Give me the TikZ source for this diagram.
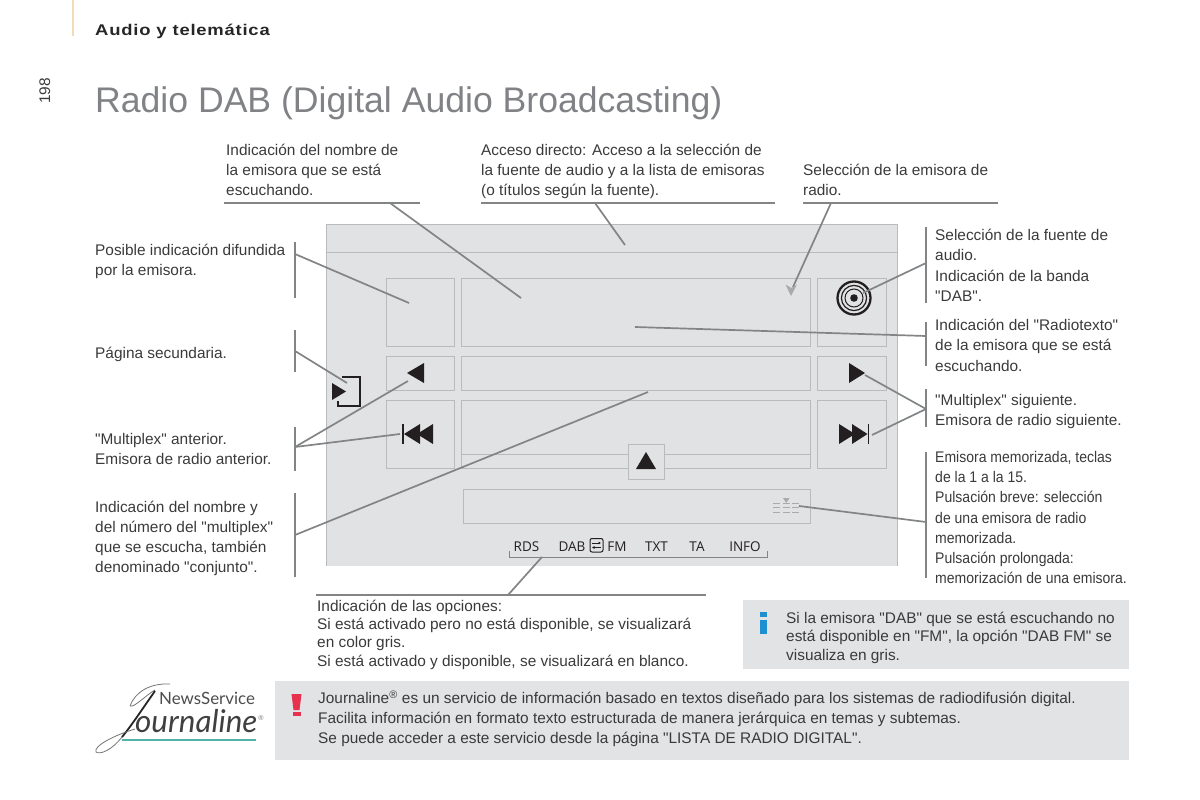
\documentclass[tikz,border=0pt]{standalone}
\usepackage{fontspec}
\usetikzlibrary{arrows.meta}
\setmainfont{Liberation Sans}
\newfontfamily\bodyfont{Liberation Sans}
\newfontfamily\logofont{Lato}
\newfontfamily\uifont{Open Sans}
\newfontfamily\narrowfont[FakeStretch=0.91]{Liberation Sans}
\newfontfamily\widefont[FakeStretch=1.19,LetterSpace=5]{Liberation Sans}
\definecolor{screen}{HTML}{E1E2E3}
\definecolor{boxline}{HTML}{B9BABC}
\definecolor{leader}{HTML}{828486}
\definecolor{bodyink}{HTML}{3A3A3C}
\definecolor{titleink}{HTML}{808285}
\definecolor{noteback}{HTML}{E2E3E4}
\definecolor{iconink}{HTML}{231F20}
\definecolor{softgrey}{HTML}{A9AAAC}
\definecolor{infoblue}{HTML}{1E90D2}
\definecolor{alertred}{HTML}{E8314F}
\definecolor{tabtan}{HTML}{F0DCB8}
\definecolor{logoteal}{HTML}{4FB3A8}
\tikzset{
 lbl/.style={anchor=north west,inner sep=0pt,align=left,text=bodyink,font=\bodyfont\fontsize{15.4}{20.2}\selectfont},
 lower/.style={anchor=north west,inner sep=0pt,align=left,text=bodyink,font=\bodyfont\fontsize{15.4}{18.3}\selectfont},
 narrowlbl/.style={anchor=north west,inner sep=0pt,align=left,text=bodyink,font=\narrowfont\fontsize{15.4}{20.2}\selectfont},
 note/.style={anchor=north west,inner sep=0pt,align=left,text=bodyink,font=\bodyfont\fontsize{15.4}{18.7}\selectfont},
 leadline/.style={draw=leader,line width=1.7pt},
 boxl/.style={draw=boxline,line width=1pt},
 icon/.style={fill=iconink,draw=none},
 uitxt/.style={anchor=base,inner sep=0pt,text=iconink,font=\uifont\fontsize{13.5}{16}\selectfont},
}
\begin{document}
\begin{tikzpicture}[x=1pt,y=-1pt]
\useasboundingbox (0,0) rectangle (1200,800);
% page header
\fill[tabtan] (71.5,0) rectangle (73.5,36);
\node[anchor=base west,inner sep=0pt,font=\widefont\bfseries\fontsize{15.5}{18}\selectfont,text=black!85] (head) at (95,36) {Audio y telemática};
\node[anchor=base,rotate=90,inner sep=0pt,font=\fontsize{15.4}{18}\selectfont,text=bodyink] (page) at (50,91) {198};
\node[anchor=base west,inner sep=0pt,font=\fontsize{35.6}{42}\selectfont,text=titleink] (title) at (95,113) {Radio DAB (Digital Audio Broadcasting)};
% screen
\fill[screen] (326,224) rectangle (897,566);
\draw[boxline,line width=1pt] (326,566) -- (326,224) -- (897,224) -- (897,566);
\draw[boxline,line width=1pt] (326,252) -- (897,252);
\draw[boxl] (386,278) rectangle (454,346);
\draw[boxl] (461,278) rectangle (810,346);
\draw[boxl] (817,278) rectangle (886,346);
\draw[boxl] (386,356) rectangle (454,390);
\draw[boxl] (461,356) rectangle (810,390);
\draw[boxl] (817,356) rectangle (886,390);
\draw[boxl] (386,400) rectangle (454,468);
\draw[boxl] (461,400) rectangle (810,468);
\draw[boxl] (817,400) rectangle (886,468);
\draw[boxl] (461,454) -- (810,454);
\draw[boxl] (463,489) rectangle (810,523);
\draw[boxl,fill=screen] (628,444) rectangle (664,479);
\fill[icon] (646,452) -- (656,469) -- (636,469) -- cycle;
% icons
\fill[icon] (407,373) -- (424,363) -- (424,383) -- cycle;
\fill[icon] (865,373) -- (849,363) -- (849,383) -- cycle;
\fill[icon] (332,383) -- (332,400) -- (346,391.5) -- cycle;
\draw[iconink,line width=2pt] (342,376.5) -- (360,376.5) -- (360,405.5) -- (337.5,405.5) -- (337.5,401);
% rewind / forward
\fill[icon] (402,424) rectangle (404,444);
\fill[icon] (404,434) -- (420,424) -- (420,444) -- cycle;
\fill[icon] (417,434) -- (433,424) -- (433,444) -- cycle;
\fill[icon] (867.5,424) rectangle (869,444);
\fill[icon] (855,434) -- (839,424) -- (839,444) -- cycle;
\fill[icon] (867.5,434) -- (852,424) -- (852,444) -- cycle;
% radio source icon
\draw[iconink,line width=2.3pt] (854,298) circle (16.5);
\draw[iconink,line width=1.2pt] (854,298) circle (12.6);
\draw[iconink,line width=1pt] (854,298) circle (9);
\fill[iconink] (854,298) circle (3.8);
% preset list icon
\foreach \yy in {503,507.5,512.5}
  \foreach \xx in {773,783,792}
    \draw[softgrey,line width=1pt] (\xx,\yy) -- ++(7,0);
\fill[softgrey] (783,498) -- (789.5,498) -- (786.2,503) -- cycle;
% option labels
\node[uitxt] (rds) at (526.5,551) {RDS};
\node[uitxt] (dab) at (572,551) {DAB};
\node[uitxt] (fm) at (617,551) {FM};
\node[uitxt] (txt) at (656.5,551) {TXT};
\node[uitxt] (ta) at (697,551) {TA};
\node[uitxt] (info) at (745,551) {INFO};
\draw[iconink,line width=1pt,rounded corners=2pt] (590,538.5) rectangle (603,552);
\draw[iconink,line width=.8pt,-{Latex[length=2.5pt,width=3pt]}] (592,543) -- (601,543);
\draw[iconink,line width=.8pt,-{Latex[length=2.5pt,width=3pt]}] (601,547.5) -- (592,547.5);
% text: top
\node[lbl] (t1) at (226,143.8) {Indicación del nombre de\\la emisora que se está\\escuchando.};
\node[lbl] (t2) at (481,143.8) {Acceso directo: Acceso a la selección de\\la fuente de audio y a la lista de emisoras\\(o títulos según la fuente).};
\node[lbl] (t3) at (803,164) {Selección de la emisora de\\radio.};
% text: left
\node[lbl] (l1) at (95,244) {Posible indicación difundida\\por la emisora.};
\node[lbl] (l2) at (95,346.8) {Página secundaria.};
\node[lbl] (l3) at (95,432.8) {"Multiplex" anterior.\\Emisora de radio anterior.};
\node[lbl] (l4) at (95,500.8) {Indicación del nombre y\\del número del "multiplex"\\que se escucha, también\\denominado "conjunto".};
% text: right
\node[lbl] (r1) at (935,229.2) {Selección de la fuente de\\audio.\\Indicación de la banda\\"DAB".};
\node[lbl] (r2) at (935,319.2) {Indicación del "Radiotexto"\\de la emisora que se está\\escuchando.};
\node[lbl] (r3) at (935,394.2) {"Multiplex" siguiente.\\Emisora de radio siguiente.};
\node[narrowlbl] (r4) at (935,451.2) {Emisora memorizada, teclas\\de la 1 a la 15.\\Pulsación breve: selección\\de una emisora de radio\\memorizada.\\Pulsación prolongada:\\memorización de una emisora.};
% text: bottom
\node[lower] (b1) at (317,599.7) {Indicación de las opciones:\\Si está activado pero no está disponible, se visualizará\\en color gris.\\Si está activado y disponible, se visualizará en blanco.};
% notes
\fill[noteback] (743,600) rectangle (1129,669);
\fill[noteback] (275,681) rectangle (1129,760);
\node[note] (n1) at (786,611.5) {Si la emisora "DAB" que se está escuchando no\\está disponible en "FM", la opción "DAB FM" se\\visualiza en gris.};
\node[anchor=north west,inner sep=0pt,align=left,text=bodyink,font=\bodyfont\fontsize{15.4}{20}\selectfont] (n2) at (318,690.5) {Journaline\textsuperscript{®} es un servicio de información basado en textos diseñado para los sistemas de radiodifusión digital.\\Facilita información en formato texto estructurada de manera jerárquica en temas y subtemas.\\Se puede acceder a este servicio desde la página "LISTA DE RADIO DIGITAL".};
\fill[infoblue] (760,612) rectangle (767,617);
\fill[infoblue] (760,620) rectangle (767,634);
\fill[alertred] (291.5,694) -- (301.5,694) -- (299.5,710) -- (293.5,710) -- cycle;
\fill[alertred] (292.5,712) rectangle (300.5,716);
% logo
\node[anchor=base west,inner sep=0pt,font=\logofont\fontsize{16.9}{18}\selectfont,text=black!70] (logo1) at (159,704) {NewsService};
\node[anchor=base west,inner sep=0pt,font=\logofont\itshape\fontsize{31.4}{32}\selectfont,text=black!75] (logo2) at (135,732) {ournaline};
\node[anchor=center,inner sep=0pt,font=\fontsize{7}{8}\selectfont,text=black!55] (logo3) at (261,718) {®};
\draw[logoteal,line width=1.5pt] (122,740) -- (256,740);
\draw[black!55,line width=.8pt] (170,684) .. controls (150,683) and (135,692) .. (130,706);
\draw[black!55,line width=.8pt] (130,706) .. controls (134,708) and (146,695) .. (155,690);
\draw[black!85,line width=1.8pt] (155,691) .. controls (145,705) and (132,725) .. (122,737);
\draw[black!55,line width=.8pt] (122,737) .. controls (112,750) and (100,755) .. (96,752) .. controls (93,746) and (115,735) .. (135,729);
% leaders: named ends
\coordinate (u1a) at (224,203); \coordinate (u1b) at (420,203); \coordinate (u1c) at (390,203); \coordinate (u1d) at (521,298);
\coordinate (u2a) at (481,203); \coordinate (u2b) at (775,203); \coordinate (u2c) at (595,203); \coordinate (u2d) at (625,245);
\coordinate (u3a) at (803,203); \coordinate (u3b) at (998,203); \coordinate (u3c) at (831,203); \coordinate (u3d) at (793,287);
\draw[leadline] (u1a) -- (u1b); \draw[leadline] (u1c) -- (u1d);
\draw[leadline] (u2a) -- (u2b); \draw[leadline] (u2c) -- (u2d);
\draw[leadline] (u3a) -- (u3b); \draw[leadline] (u3c) -- (u3d);
\fill[softgrey] (785.5,284.5) -- (791,296) -- (797,284.5) -- (791.3,288) -- cycle;
\coordinate (v1a) at (295,242); \coordinate (v1b) at (295,298); \coordinate (v1c) at (295,254); \coordinate (v1d) at (409,303);
\coordinate (v2a) at (295,330); \coordinate (v2b) at (295,372); \coordinate (v2c) at (295,351); \coordinate (v2d) at (347,383);
\coordinate (v3a) at (295,427); \coordinate (v3b) at (295,471); \coordinate (v3c) at (295,447); \coordinate (v3d) at (408,381); \coordinate (v3e) at (400,434);
\coordinate (v4a) at (295,493); \coordinate (v4b) at (295,577); \coordinate (v4c) at (295,535); \coordinate (v4d) at (648,392);
\draw[leadline] (v1a) -- (v1b); \draw[leadline] (v1c) -- (v1d);
\draw[leadline] (v2a) -- (v2b); \draw[leadline] (v2c) -- (v2d);
\draw[leadline] (v3a) -- (v3b); \draw[leadline] (v3c) -- (v3d); \draw[leadline] (v3c) -- (v3e);
\draw[leadline] (v4a) -- (v4b); \draw[leadline] (v4c) -- (v4d);
\coordinate (w1a) at (926,227); \coordinate (w1b) at (926,303); \coordinate (w1c) at (926,263); \coordinate (w1d) at (863,293);
\coordinate (w2a) at (926,322); \coordinate (w2b) at (926,366); \coordinate (w2c) at (926,336); \coordinate (w2d) at (635,327);
\coordinate (w3a) at (926,389); \coordinate (w3b) at (926,427); \coordinate (w3c) at (926,409); \coordinate (w3d) at (865,375); \coordinate (w3e) at (872,435);
\coordinate (w4a) at (926,452); \coordinate (w4b) at (926,578); \coordinate (w4c) at (926,522); \coordinate (w4d) at (799,506);
\draw[leadline] (w1a) -- (w1b); \draw[leadline] (w1c) -- (w1d);
\draw[leadline] (w2a) -- (w2b); \draw[leadline] (w2c) -- (w2d);
\draw[leadline] (w3a) -- (w3b); \draw[leadline] (w3c) -- (w3d); \draw[leadline] (w3c) -- (w3e);
\draw[leadline] (w4a) -- (w4b); \draw[leadline] (w4c) -- (w4d);
\coordinate (x1a) at (316,595); \coordinate (x1b) at (706,595); \coordinate (x1c) at (508,595); \coordinate (x1d) at (542,557);
\draw[leadline] (x1a) -- (x1b); \draw[leadline] (x1c) -- (x1d);
\draw[leader,line width=1pt] (509,551) -- (509,557) -- (767,557) -- (767,551);
\end{tikzpicture}
\end{document}
